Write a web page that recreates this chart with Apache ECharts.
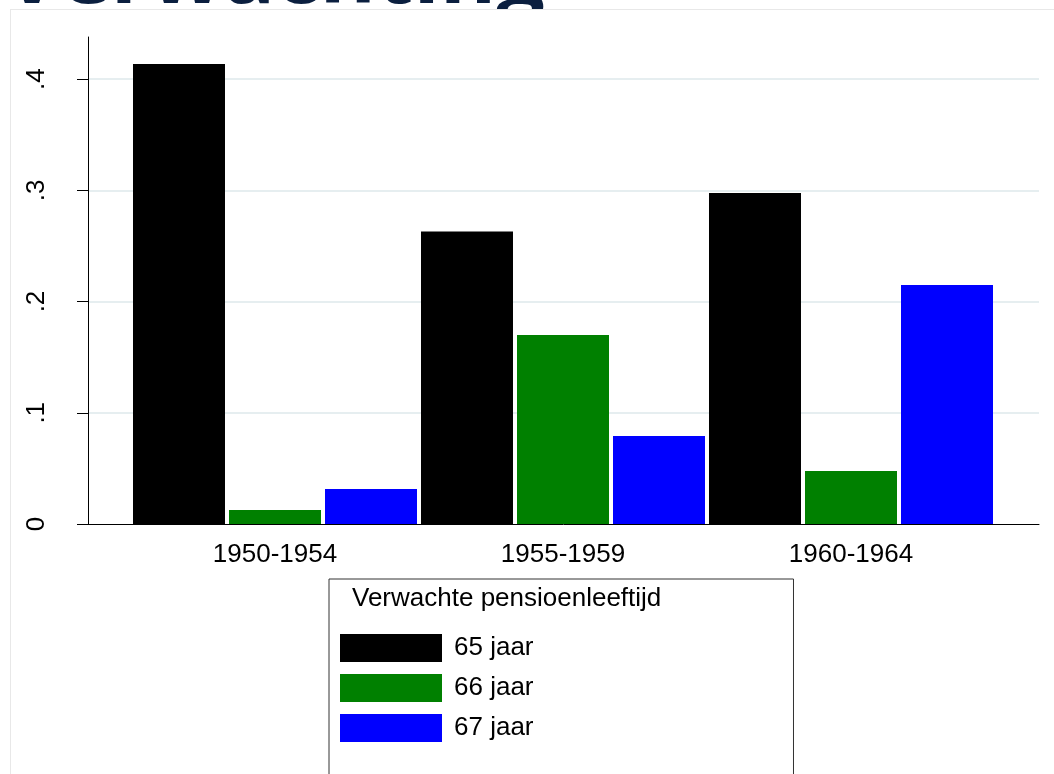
<!DOCTYPE html>
<html>
<head>
<meta charset="utf-8">
<script src="https://cdn.jsdelivr.net/npm/echarts@6/dist/echarts.min.js"></script>
<style>
  html, body { margin: 0; padding: 0; background: #fff; overflow: hidden; }
  #ttl {
    position: absolute; left: 4px; top: -73px;
    font: 700 86px/86px "Open Sans", sans-serif; color: #0b1f3f;
    white-space: nowrap;
  }
  #panel {
    position: absolute; left: 10px; top: 9px; width: 1100px; height: 820px;
    border: 1px solid #e8e8e8; background: #fff;
  }
  #main { position: absolute; left: 0; top: 0; width: 1054px; height: 774px; }
</style>
</head>
<body>
<div id="ttl">Verwachting</div>
<div id="panel"></div>
<div id="main"></div>
<script>
// cohorten en aandelen per verwachte pensioenleeftijd
var cohorts = ['1950-1954', '1955-1959', '1960-1964'];
var age65 = [0.4135, 0.263, 0.2975];
var age66 = [0.0126, 0.170, 0.0476];
var age67 = [0.0315, 0.079, 0.2148];
var seriesNames = ['65 jaar', '66 jaar', '67 jaar'];
var yTicks = [0, 0.1, 0.2, 0.3, 0.4];
var legendTitle = 'Verwachte pensioenleeftijd';

var font = '"Liberation Sans", Arial, sans-serif';
var yMax = 0.4378;

var myChart = echarts.init(document.getElementById('main'));

var option = {
    animation: false,
    title: {
        text: legendTitle,
        left: 352,
        top: 586,
        padding: 0,
        textStyle: { fontFamily: font, fontSize: 26, fontWeight: 'normal', color: '#000' }
    },
    legend: {
        orient: 'vertical',
        left: 329,
        top: 579,
        height: 300,
        padding: [55, 260, 80, 11],
        itemWidth: 102,
        itemHeight: 28,
        itemGap: 12,
        icon: 'rect',
        borderColor: '#333',
        borderWidth: 1,
        backgroundColor: '#fff',
        selectedMode: false,
        textStyle: { fontFamily: font, fontSize: 26, color: '#000', padding: [0, 0, 0, 7] },
        data: seriesNames
    },
    grid: [
        // assen over de volle breedte
        { left: 88, right: 15, top: 37, bottom: 250 },
        // balken
        { left: 131, right: 59, top: 37, bottom: 250 }
    ],
    xAxis: [
        {
            gridIndex: 0, type: 'category', data: cohorts,
            axisLine: { lineStyle: { color: '#000', width: 1 } },
            axisTick: { show: false }, axisLabel: { show: false }
        },
        {
            gridIndex: 1, type: 'category', data: cohorts,
            axisLine: { show: false }, axisTick: { show: false },
            axisLabel: { margin: 18, fontFamily: font, fontSize: 26, color: '#000' }
        }
    ],
    yAxis: [
        {
            gridIndex: 0, type: 'value', min: 0, max: yMax,
            axisLine: { show: true, lineStyle: { color: '#000', width: 1 } },
            axisTick: { show: true, length: 11, customValues: yTicks, lineStyle: { color: '#000' } },
            axisLabel: {
                customValues: yTicks, rotate: 90, margin: 38,
                fontFamily: font, fontSize: 26, color: '#000',
                formatter: function (v) { return v === 0 ? '0' : String(v).replace(/^0/, ''); }
            },
            splitLine: { show: true, showMinLine: false, lineStyle: { color: '#e6eef0', width: 2 } }
        },
        {
            gridIndex: 1, type: 'value', min: 0, max: yMax, show: false,
            splitLine: { show: false }
        }
    ],
    series: [
        { name: seriesNames[0], type: 'bar', xAxisIndex: 1, yAxisIndex: 1, data: age65,
          barWidth: 92, barGap: '4.35%', itemStyle: { color: '#000000' } },
        { name: seriesNames[1], type: 'bar', xAxisIndex: 1, yAxisIndex: 1, data: age66,
          barWidth: 92, barGap: '4.35%', itemStyle: { color: '#008000' } },
        { name: seriesNames[2], type: 'bar', xAxisIndex: 1, yAxisIndex: 1, data: age67,
          barWidth: 92, barGap: '4.35%', itemStyle: { color: '#0000ff' } }
    ]
};

myChart.setOption(option);
</script>
</body>
</html>
